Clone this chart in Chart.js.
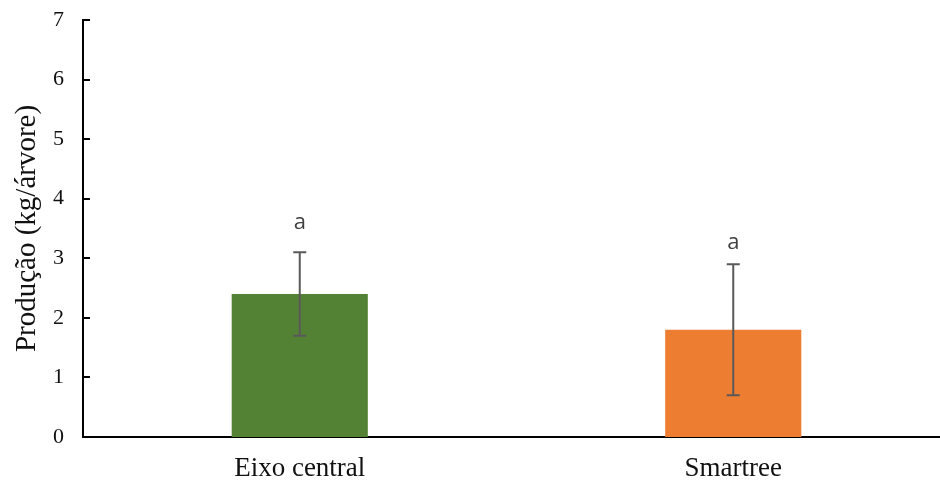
<!DOCTYPE html>
<html>
<head>
<meta charset="utf-8">
<script src="https://cdn.jsdelivr.net/npm/chart.js@4/dist/chart.umd.min.js"></script>
<style>
  html, body { margin: 0; padding: 0; background: #fff; overflow: hidden; }
  #wrap { width: 940px; height: 480px; overflow: hidden; position: relative; }
  #box { width: 950px; height: 480px; position: absolute; left: 0; top: 0; }
</style>
</head>
<body>
<div id="wrap"><div id="box"><canvas id="c"></canvas></div></div>
<script>
// Production per tree for two training systems
const categories = ['Eixo central', 'Smartree'];
const production = [2.4, 1.8];
const errLow = [1.7, 0.7];
const errHigh = [3.1, 2.9];
const letters = ['a', 'a'];
const letterAt = [3.59, 3.26];
const yTicks = [0, 1, 2, 3, 4, 5, 6, 7];
const barColors = ['#548235', '#ED7D31'];

const serif = '"Liberation Serif", "Times New Roman", serif';

// Error bars with caps, plus the significance letters
const errorBars = {
  id: 'errorBars',
  afterDatasetsDraw(chart) {
    const ctx = chart.ctx;
    const meta = chart.getDatasetMeta(0);
    const y = chart.scales.y;
    ctx.save();
    ctx.strokeStyle = '#595959';
    ctx.lineWidth = 2;
    meta.data.forEach((bar, i) => {
      const x = bar.x;
      const yl = y.getPixelForValue(errLow[i]);
      const yh = y.getPixelForValue(errHigh[i]);
      ctx.beginPath();
      ctx.moveTo(x, yl); ctx.lineTo(x, yh);
      ctx.moveTo(x - 6.5, yl); ctx.lineTo(x + 6.5, yl);
      ctx.moveTo(x - 6.5, yh); ctx.lineTo(x + 6.5, yh);
      ctx.stroke();
      ctx.fillStyle = '#404040';
      ctx.font = '22px "Open Sans", sans-serif';
      ctx.textAlign = 'center';
      ctx.textBaseline = 'middle';
      ctx.fillText(letters[i], x, y.getPixelForValue(letterAt[i]));
    });
    ctx.restore();
  }
};

// Short tick marks pointing into the plot from the value axis
const innerTicks = {
  id: 'innerTicks',
  afterDraw(chart) {
    const ctx = chart.ctx;
    const y = chart.scales.y;
    const left = chart.chartArea.left;
    ctx.save();
    ctx.strokeStyle = '#000';
    ctx.lineWidth = 2;
    ctx.beginPath();
    y.ticks.forEach(t => {
      if (t.value === 0) return;
      const py = Math.round(y.getPixelForValue(t.value));
      ctx.moveTo(left, py);
      ctx.lineTo(left + 7, py);
    });
    ctx.stroke();
    ctx.restore();
  }
};

new Chart(document.getElementById('c'), {
  type: 'bar',
  data: {
    labels: categories,
    datasets: [{
      data: production,
      backgroundColor: barColors,
      borderWidth: 0,
      barPercentage: 0.314,
      categoryPercentage: 1
    }]
  },
  options: {
    responsive: true,
    maintainAspectRatio: false,
    animation: false,
    devicePixelRatio: 1,
    layout: { padding: { top: 20, right: 0, bottom: 0, left: 0 } },
    plugins: { legend: { display: false }, tooltip: { enabled: false } },
    scales: {
      x: {
        grid: { display: false, drawTicks: false },
        border: { display: true, color: '#000', width: 2 },
        ticks: {
          color: '#111',
          font: { family: serif, size: 27 },
          padding: 16
        },
        afterFit(scale) {
          scale.height = 43;
          scale.paddingLeft = 0;
          scale.paddingRight = 0;
        }
      },
      y: {
        min: 0,
        max: 7,
        afterBuildTicks(scale) { scale.ticks = yTicks.map(v => ({ value: v })); },
        grid: { display: false, drawTicks: false },
        border: { display: true, color: '#000', width: 2 },
        ticks: {
          color: '#111',
          font: { family: serif, size: 22 },
          padding: 19
        },
        title: {
          display: true,
          text: 'Produção (kg/árvore)',
          color: '#111',
          font: { family: serif, size: 29 },
          padding: { top: 10, bottom: 0 }
        },
        afterFit(scale) {
          scale.width = 83;
          scale.paddingTop = 0;
          scale.paddingBottom = 0;
        }
      }
    }
  },
  plugins: [errorBars, innerTicks]
});
</script>
</body>
</html>
